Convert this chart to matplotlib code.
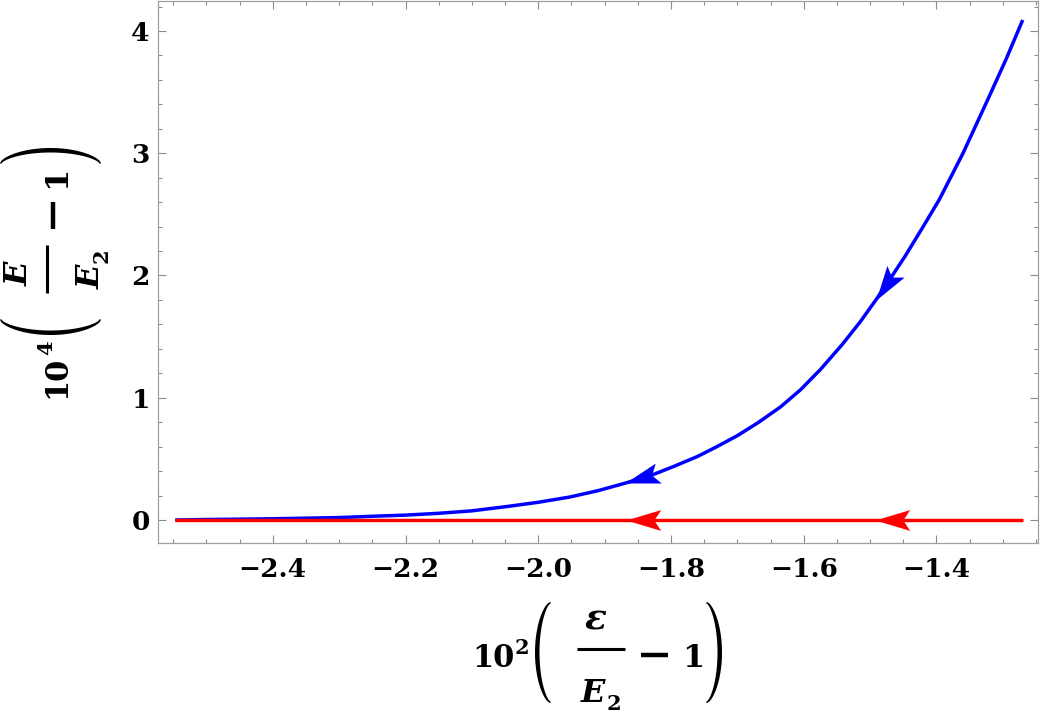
import numpy as np
import matplotlib
matplotlib.use('Agg')
import matplotlib.pyplot as plt
from matplotlib.path import Path
from matplotlib.markers import MarkerStyle
from matplotlib.transforms import Affine2D
from matplotlib.ticker import MultipleLocator
from matplotlib.patches import Polygon
from matplotlib.lines import Line2D

# curve
blue_x = [-2.547, -2.50, -2.45, -2.40, -2.35, -2.30, -2.2376, -2.20, -2.15, -2.10,
          -2.0477, -2.00, -1.9526, -1.91, -1.870, -1.83, -1.795, -1.76, -1.7319,
          -1.70, -1.6686, -1.635, -1.6053, -1.575, -1.5418, -1.515, -1.4913,
          -1.47, -1.447, -1.42, -1.3955, -1.36, -1.3226, -1.295, -1.270]
blue_y = [0.0, 0.004, 0.007, 0.010, 0.015, 0.020, 0.033, 0.040, 0.055, 0.075,
          0.11, 0.145, 0.188, 0.24, 0.30, 0.365, 0.44, 0.52, 0.597,
          0.69, 0.797, 0.925, 1.063, 1.23, 1.437, 1.62, 1.80,
          1.97, 2.16, 2.40, 2.623, 3.00, 3.44, 3.77, 4.09]
red_x = [-2.547, -1.270]
red_y = [0.0, 0.0]

# arrow tips (index into blue arrays, x for red)
blue_arrow_idx = [14, 26]
red_arrow_x = [-1.868, -1.492]

plt.rcParams['font.family'] = 'DejaVu Serif'
plt.rcParams['font.weight'] = 'bold'

W, H = 1042, 721
fig = plt.figure(figsize=(W / 100, H / 100), dpi=100)
ax = fig.add_axes([158 / W, 1 - 543 / H, (1038 - 158) / W, (543 - 1) / H])

ax.plot(blue_x, blue_y, color='#0000FF', lw=2.5, solid_capstyle='butt', zorder=3)
ax.plot(red_x, red_y, color='#FF0000', lw=2.5, solid_capstyle='butt', zorder=4)

ax.set_xlim(-2.573, -1.247)
ax.set_ylim(-0.188, 4.245)

ax.xaxis.set_major_locator(MultipleLocator(0.2))
ax.xaxis.set_minor_locator(MultipleLocator(0.05))
ax.yaxis.set_major_locator(MultipleLocator(1))
ax.yaxis.set_minor_locator(MultipleLocator(0.2))
ax.xaxis.set_major_formatter(plt.FuncFormatter(lambda v, p: f'{v:.1f}'.replace('-', '\u2212')))
ax.yaxis.set_major_formatter(plt.FuncFormatter(lambda v, p: f'{v:.0f}'))

ax.tick_params(which='both', direction='in', top=True, right=True, color='#8c8c8c',
               width=0.8, labelsize=19)
ax.tick_params(which='major', length=5.5)
ax.tick_params(which='minor', length=3)
ax.tick_params(axis='x', pad=10)
ax.tick_params(axis='y', pad=6)
for sp in ax.spines.values():
    sp.set_color('#a0a0a0')
    sp.set_linewidth(0.9)


def arrow_marker(angle):
    verts = [(0, 0), (-1, 0.3), (-0.8, 0), (-1, -0.3), (0, 0)]
    codes = [Path.MOVETO, Path.LINETO, Path.LINETO, Path.LINETO, Path.CLOSEPOLY]
    return MarkerStyle(Path(verts, codes), transform=Affine2D().rotate(angle))


def draw_arrow(tip, back, color):
    p1 = ax.transData.transform(back)
    p2 = ax.transData.transform(tip)
    ang = np.arctan2(p2[1] - p1[1], p2[0] - p1[0])
    ax.plot([tip[0]], [tip[1]], marker=arrow_marker(ang), ms=50, color=color,
            mec=color, mew=0, zorder=5)


for i in blue_arrow_idx:
    draw_arrow((blue_x[i], blue_y[i]), (blue_x[i + 1], blue_y[i + 1]), '#0000FF')
for xr in red_arrow_x:
    draw_arrow((xr, 0.0), (xr + 0.05, 0.0), '#FF0000')


# ---- axis labels built piece by piece (Mathematica style) ----
def draw_label(ox, oy, rot, expo, numer, numer_size):
    # local coords: u along the text, v downwards from the baseline (pixels)
    def fpos(u, v):
        if rot == 0:
            x, y = ox + u, oy + v
        else:
            x, y = ox + v, oy - u
        return x / W, 1 - y / H

    def txt(u, v, s, size, style='normal'):
        x, y = fpos(u, v)
        fig.text(x, y, s, fontsize=size, fontweight='bold', fontstyle=style,
                 ha='center', va='baseline', rotation=rot, rotation_mode='anchor',
                 family='DejaVu Serif')

    def bar(u1, u2, v, lw):
        (x1, y1), (x2, y2) = fpos(u1, v), fpos(u2, v)
        fig.add_artist(Line2D([x1, x2], [y1, y2], color='black', lw=lw,
                              transform=fig.transFigure, solid_capstyle='butt'))

    txt(20, 0, '10', 22)
    txt(49, -13, expo, 15)
    txt(123, -37, numer, numer_size, 'italic')
    txt(120, 35, 'E', 23, 'italic')
    txt(141, 43, '2', 15)
    txt(220, 0, '1', 23)
    bar(168, 195, -12, 3.2)     # minus sign
    bar(104, 152, -18, 2.2)     # fraction bar

    # parentheses as tapered crescents
    t = np.linspace(-1, 1, 60)
    vmid, hh = -14.5, 50.5
    for uend, sgn in [(77, -1), (234, 1)]:
        outer = [(uend + sgn * 15 * (1 - tt ** 2) ** 0.65, vmid + tt * hh) for tt in t]
        inner = [(uend - sgn * 1.0 + sgn * 11.5 * (1 - tt ** 2) ** 0.65, vmid + tt * (hh - 1))
                 for tt in t[::-1]]
        pts = [fpos(u, v) for u, v in outer + inner]
        fig.add_artist(Polygon(pts, closed=True, facecolor='black', edgecolor='none',
                               transform=fig.transFigure))


draw_label(473, 667, 0, '2', '\u03b5', 26)
draw_label(65, 397, 90, '4', 'E', 23)

plt.savefig('out.png', dpi=100)
